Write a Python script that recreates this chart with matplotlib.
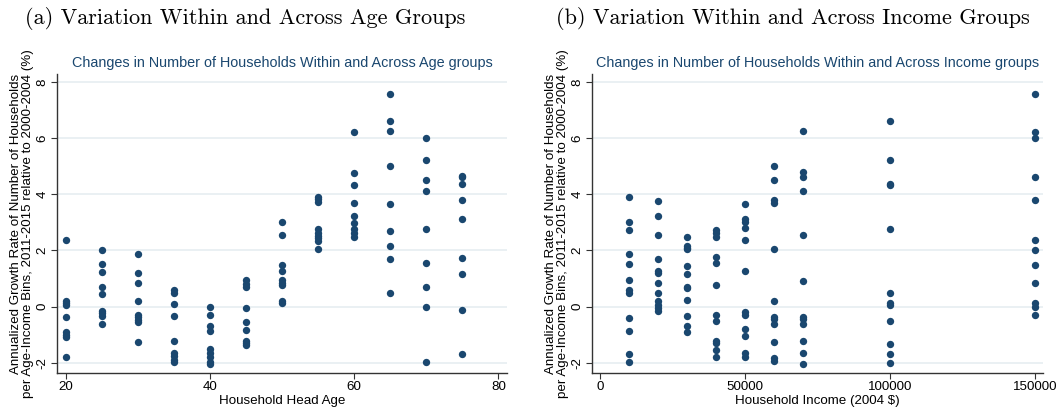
import numpy as np
import matplotlib
matplotlib.use('Agg')
import matplotlib.pyplot as plt

plt.rcParams['font.family'] = ['Liberation Sans', 'DejaVu Sans']
plt.rcParams['axes.unicode_minus'] = False

# Panel (a): growth rate by household head age group
ages = [20, 25, 30, 35, 40, 45, 50, 55, 60, 65, 70, 75]
age_vals = [
    [2.38, 0.21, 0.14, 0.06, -0.36, -0.89, -1.0, -1.07, -1.78],
    [2.0, 1.52, 1.25, 0.69, 0.45, -0.14, -0.24, -0.33, -0.63],
    [1.88, 1.19, 0.83, 0.21, -0.3, -0.38, -0.46, -0.54, -1.25],
    [0.59, 0.48, 0.1, -0.32, -1.21, -1.64, -1.76, -1.88, -1.96],
    [0.0, -0.3, -0.68, -0.87, -1.52, -1.66, -1.8, -1.96, -2.05],
    [0.95, 0.81, 0.69, -0.06, -0.53, -0.83, -1.21, -1.31, -1.38],
    [3.02, 2.55, 1.48, 1.28, 0.95, 0.85, 0.77, 0.21, 0.12],
    [3.91, 3.82, 3.74, 2.75, 2.61, 2.51, 2.43, 2.35, 2.06],
    [6.2, 4.77, 4.33, 3.68, 3.24, 2.99, 2.76, 2.61, 2.47],
    [7.58, 6.62, 6.26, 5.02, 3.65, 2.71, 2.16, 1.69, 0.48],
    [6.0, 5.23, 4.51, 4.1, 2.78, 1.57, 0.69, 0.0, -1.96],
    [4.66, 4.6, 4.35, 3.79, 3.12, 1.75, 1.15, -0.13, -1.69],
]

# Panel (b): growth rate by household income group
incomes = [10000, 20000, 30000, 40000, 50000, 60000, 70000, 100000, 150000]
inc_vals = [
    [3.9, 3.03, 2.73, 1.88, 1.51, 0.95, 0.58, 0.47, -0.39, -0.87, -1.69, -1.96],
    [3.76, 3.23, 2.54, 1.69, 1.27, 1.19, 0.83, 0.48, 0.21, 0.06, -0.06, -0.14],
    [2.48, 2.17, 2.1, 2.06, 1.46, 1.15, 0.71, 0.65, 0.23, -0.32, -0.68, -0.91],
    [2.73, 2.61, 2.49, 1.76, 1.57, 0.78, -0.3, -0.51, -1.21, -1.31, -1.54, -1.78],
    [3.66, 3.12, 3.02, 2.79, 2.38, 1.27, -0.18, -0.3, -0.81, -1.03, -1.66, -1.78],
    [5.02, 4.5, 3.78, 3.68, 2.05, 0.21, -0.36, -0.45, -0.62, -1.26, -1.84, -1.94],
    [6.26, 4.78, 4.62, 4.1, 2.55, 0.93, -0.36, -0.45, -0.63, -1.21, -1.64, -2.05],
    [6.62, 5.23, 4.38, 4.32, 2.76, 0.48, 0.12, 0.06, -0.51, -1.33, -1.69, -2.0],
    [7.58, 6.2, 6.0, 4.63, 3.8, 2.38, 2.0, 1.48, 0.83, 0.12, 0.0, -0.3],
]

navy = '#1a476f'
grid_col = '#e6eef1'
W, H = 1062, 412

fig = plt.figure(figsize=(W / 100, H / 100), dpi=100)


def px_axes(x0, x1, y0, y1):
    return fig.add_axes([x0 / W, 1 - y1 / H, (x1 - x0) / W, (y1 - y0) / H])


def style(ax, title, xlabel):
    ax.set_ylim(-2.36, 8.28)
    ax.set_yticks([-2, 0, 2, 4, 6, 8])
    ax.set_yticklabels(['-2', '0', '2', '4', '6', '8'], rotation=90, va='center')
    ax.grid(axis='y', color=grid_col, linewidth=1.2)
    ax.set_axisbelow(True)
    for s in ['top', 'right']:
        ax.spines[s].set_visible(False)
    for s in ['left', 'bottom']:
        ax.spines[s].set_color('#333333')
        ax.spines[s].set_linewidth(1.0)
    ax.tick_params(labelsize=9.6, length=4, color='#333333', pad=2)
    ax.set_title(title, color=navy, fontsize=10.4, pad=5)
    ax.set_xlabel(xlabel, fontsize=9.6, labelpad=1)
    ax.set_ylabel('Annualized Growth Rate of Number of Households\n'
                  'per Age-Income Bins, 2011-2015 relative to 2000-2004 (%)',
                  fontsize=9.6, labelpad=2, linespacing=0.95)


# left panel
ax1 = px_axes(57, 507, 74, 373)
for a, v in zip(ages, age_vals):
    ax1.scatter([a] * len(v), v, s=28, color=navy, linewidths=0, zorder=3)
ax1.set_xlim(18.75, 81.2)
ax1.set_xticks([20, 40, 60, 80])
style(ax1, 'Changes in Number of Households Within and Across Age groups',
      'Household Head Age')

# right panel
ax2 = px_axes(592, 1043, 74, 373)
for inc, v in zip(incomes, inc_vals):
    ax2.scatter([inc] * len(v), v, s=28, color=navy, linewidths=0, zorder=3)
ax2.set_xlim(-2760, 152860)
ax2.set_xticks([0, 50000, 100000, 150000])
ax2.set_xticklabels(['0', '50000', '100000', '150000'])
style(ax2, 'Changes in Number of Households Within and Across Income groups',
      'Household Income (2004 $)')

fig.text(245 / W, 1 - 19 / H, '(a) Variation Within and Across Age Groups',
         family='cmr10', fontsize=16, ha='center', va='center')
fig.text(793 / W, 1 - 19 / H, '(b) Variation Within and Across Income Groups',
         family='cmr10', fontsize=16, ha='center', va='center')

fig.savefig('out.png', dpi=100)
